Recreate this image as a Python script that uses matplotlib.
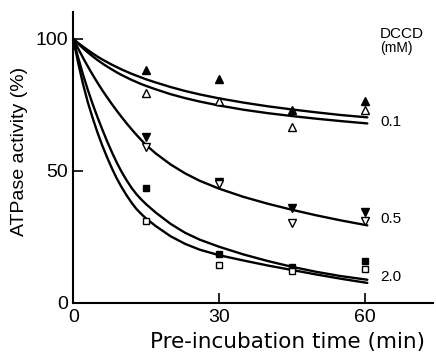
import matplotlib
matplotlib.use("Agg")
import matplotlib.pyplot as plt

plt.rcParams['font.family'] = ['Liberation Sans', 'DejaVu Sans']

# measured points (pre-incubation time, % activity)
t_pts = [15, 30, 45, 60]
dccd01_filled = [88.3, 84.7, 73.1, 76.6]
dccd01_open = [79.4, 76.5, 66.8, 73.1]
dccd05_filled = [63.0, 46.0, 35.9, 34.6]
dccd05_open = [59.2, 45.0, 30.2, 31.2]
dccd20_filled = [43.4, 18.6, 13.5, 16.0]
dccd20_open = [31.1, 14.4, 12.2, 12.8]

# fitted curves
t_fit = [0, 1, 2, 3, 4, 5, 6, 7, 8, 9, 10, 11, 12, 13, 14, 15,
         17, 20, 23, 26, 30, 35, 40, 45, 50, 55, 60.5]
fit01_a = [100, 98.5, 97.1, 95.8, 94.5, 93.3, 92.2, 91.2, 90.2, 89.3, 88.4, 87.6, 86.8, 86.1,
           85.4, 84.7, 83.5, 81.8, 80.3, 79.0, 77.5, 75.9, 74.5, 73.3, 72.2, 71.2, 70.3]
fit01_b = [100, 98.2, 96.5, 94.9, 93.4, 92.0, 90.7, 89.5, 88.4, 87.3, 86.3, 85.4, 84.5, 83.7,
           82.9, 82.2, 80.9, 79.1, 77.6, 76.3, 74.8, 73.2, 71.9, 70.8, 69.8, 68.9, 68.0]
fit05 = [100, 96.4, 92.9, 89.6, 86.4, 83.4, 80.5, 77.8, 75.2, 72.7, 70.3, 68.0, 65.8, 63.7,
         61.7, 59.8, 56.6, 52.5, 49.1, 46.3, 43.3, 40.2, 37.6, 35.3, 33.2, 31.3, 29.4]
fit20_a = [100, 93.0, 86.6, 80.7, 75.3, 70.3, 65.6, 61.1, 56.9, 53.0, 49.5, 46.4, 43.6, 41.2,
           39.2, 37.4, 34.2, 30.0, 26.6, 24.0, 21.3, 18.4, 15.9, 13.7, 11.8, 10.2, 8.8]
fit20_b = [100, 91.0, 83.0, 76.0, 70.0, 64.5, 59.5, 55.0, 50.8, 47.0, 43.7, 40.7, 38.0, 35.6,
           33.7, 32.0, 29.1, 25.3, 22.4, 20.2, 18.1, 16.1, 14.2, 12.5, 10.8, 9.2, 7.6]

conc_labels = ['0.1', '0.5', '2.0']
conc_label_y = [68.7, 31.8, 9.7]

fig = plt.figure(figsize=(4.36, 3.61), dpi=100)
ax = fig.add_axes([0.168, 0.1607, 0.825, 0.806])

for curve in [fit01_a, fit01_b, fit05, fit20_a, fit20_b]:
    ax.plot(t_fit, curve, color='black', lw=1.7, solid_capstyle='round')

ax.plot(t_pts, dccd01_filled, '^', color='black', ms=6, ls='none')
ax.plot(t_pts, dccd01_open, '^', mfc='white', mec='black', mew=1.0, ms=6, ls='none')
ax.plot(t_pts, dccd05_filled, 'v', color='black', ms=6, ls='none')
ax.plot(t_pts, dccd05_open, 'v', mfc='white', mec='black', mew=1.0, ms=6, ls='none')
ax.plot(t_pts, dccd20_filled, 's', color='black', ms=5, ls='none')
ax.plot(t_pts, dccd20_open, 's', mfc='white', mec='black', mew=1.0, ms=5, ls='none')

for lab, yy in zip(conc_labels, conc_label_y):
    ax.text(63.1, yy, lab, fontsize=11, va='center', ha='left')
ax.text(63.1, 102, 'DCCD', fontsize=11, va='center', ha='left')
ax.text(63.1, 96.5, '(mM)', fontsize=10, va='center', ha='left')

ax.set_xlim(0, 74)
ax.set_ylim(0, 110.2)
ax.set_xticks([0, 30, 60])
ax.set_yticks([0, 50, 100])
ax.tick_params(direction='in', length=7, width=1.2, labelsize=14, pad=4)
for s in ['top', 'right']:
    ax.spines[s].set_visible(False)
for s in ['left', 'bottom']:
    ax.spines[s].set_linewidth(1.5)

ax.set_ylabel('ATPase activity (%)', fontsize=14)
ax.yaxis.set_label_coords(-0.125, 0.52)
ax.set_xlabel('Pre-incubation time (min)', fontsize=15.5, family=['DejaVu Sans'])
ax.xaxis.set_label_coords(0.596, -0.098)

fig.savefig('out.png', dpi=100)
